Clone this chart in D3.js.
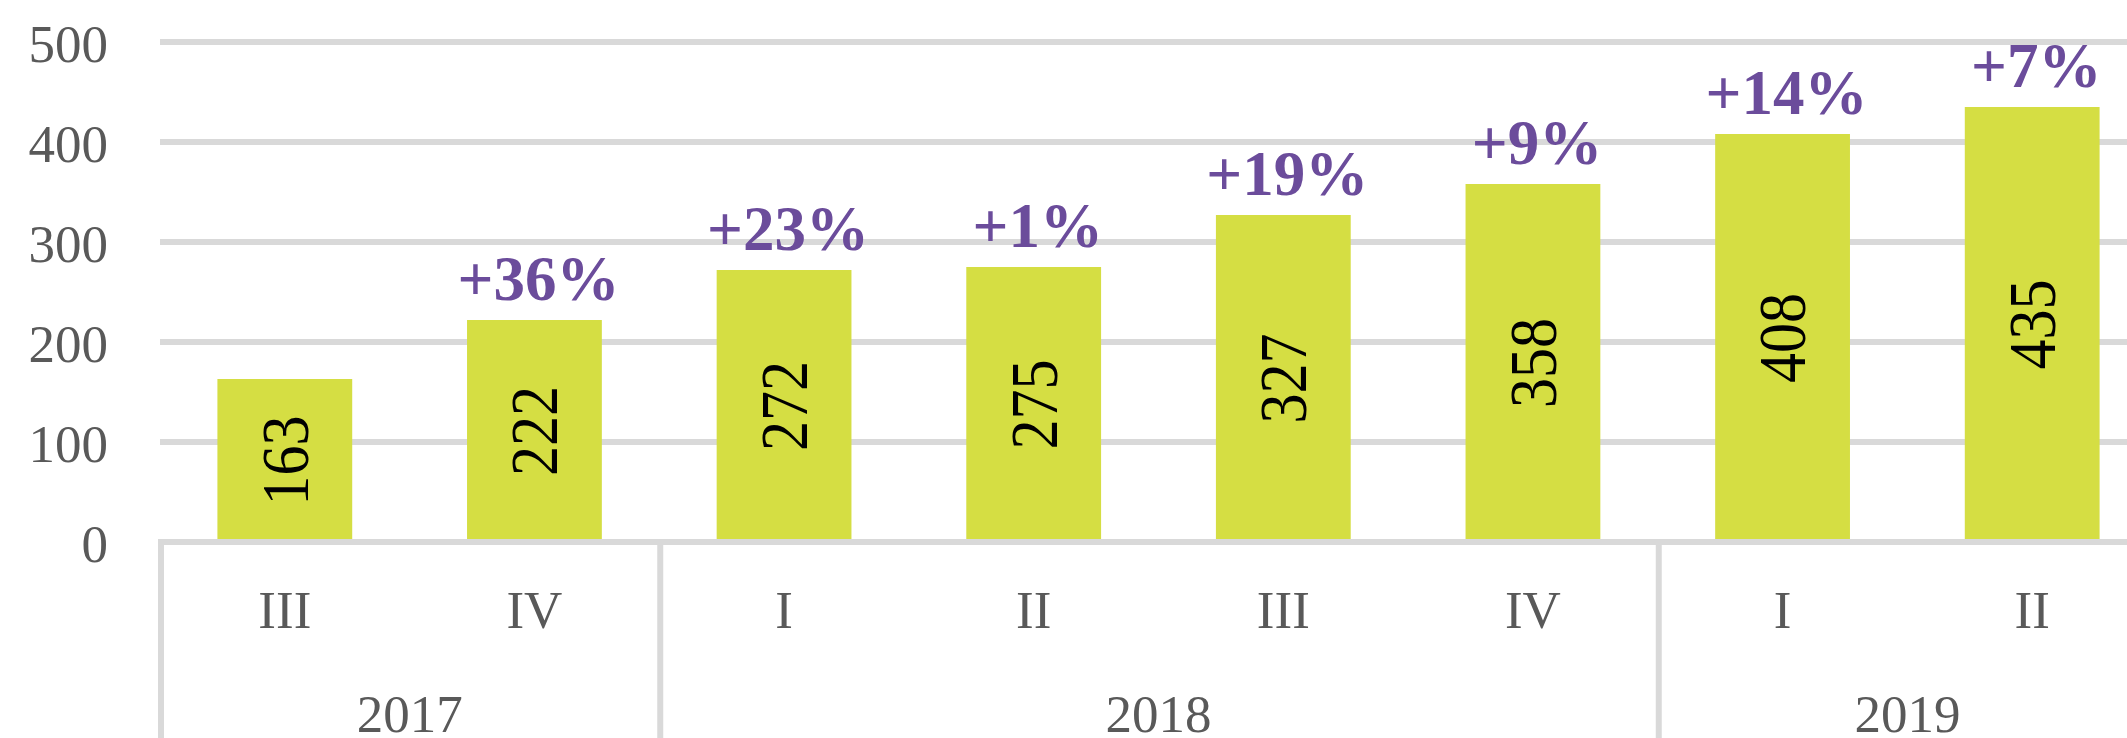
<!DOCTYPE html>
<html>
<head>
<meta charset="utf-8">
<script src="https://cdn.jsdelivr.net/npm/d3@7"></script>
<style>
  body { margin: 0; background: #fff; }
  svg { display: block; }
  text { font-family: "Liberation Serif", "Times New Roman", serif; }
</style>
</head>
<body>
<svg id="chart" width="2127" height="738"></svg>
<script>
// data
const quarters = ["III", "IV", "I", "II", "III", "IV", "I", "II"];
const years = ["2017", "2017", "2018", "2018", "2018", "2018", "2019", "2019"];
const values = [163, 222, 272, 275, 327, 358, 408, 435];
const growth = [null, "+36%", "+23%", "+1%", "+19%", "+9%", "+14%", "+7%"];
const yTicks = [0, 100, 200, 300, 400, 500];

const svg = d3.select("#chart");

const barColor = "#d5de43",
	gridColor = "#d9d9d9",
	axisText = "#595959",
	purple = "#6b4c9b";

// the plot runs off the right side of the picture, like the original
const x0 = 160, x1 = 2157;
const ids = d3.range(values.length);

const x = d3.scaleBand()
	.domain(ids)
	.range([x0, x1])
	.paddingInner(0.46)
	.paddingOuter(0.23);

const y = d3.scaleLinear()
	.domain([0, 500])
	.range([542, 42]);

// gridlines
svg.append("g")
	.selectAll("line")
	.data(yTicks.filter(d => d > 0))
	.enter().append("line")
	.attr("x1", x0)
	.attr("x2", x1)
	.attr("y1", d => y(d))
	.attr("y2", d => y(d))
	.attr("stroke", gridColor)
	.attr("stroke-width", 6);

// y labels
svg.append("g")
	.selectAll("text")
	.data(yTicks)
	.enter().append("text")
	.attr("x", 108)
	.attr("y", d => y(d))
	.attr("dy", "0.37em")
	.attr("text-anchor", "end")
	.attr("font-size", 53)
	.attr("fill", axisText)
	.text(d => d);

// bars
svg.append("g")
	.selectAll("rect")
	.data(ids)
	.enter().append("rect")
	.attr("x", i => x(i))
	.attr("width", x.bandwidth())
	.attr("y", i => y(values[i]))
	.attr("height", i => y(0) - y(values[i]))
	.attr("fill", barColor);

// value labels, turned on their side inside the bars
svg.append("g")
	.selectAll("text")
	.data(ids)
	.enter().append("text")
	.attr("transform", i => {
		const cx = x(i) + x.bandwidth() / 2;
		const cy = (y(values[i]) + y(0)) / 2;
		return `translate(${cx},${cy}) rotate(-90) scale(1,1.12)`;
	})
	.attr("text-anchor", "middle")
	.attr("dy", "0.34em")
	.attr("font-size", 60)
	.attr("fill", "#000")
	.text(i => values[i]);

// growth labels above bars
svg.append("g")
	.selectAll("text")
	.data(ids.filter(i => growth[i]))
	.enter().append("text")
	.attr("x", i => x(i) + x.bandwidth() / 2 + 4)
	.attr("y", i => y(values[i]) - 20)
	.attr("text-anchor", "middle")
	.attr("font-size", 63)
	.attr("font-weight", "bold")
	.attr("fill", purple)
	.text(i => growth[i]);

// category axis: baseline, group boxes, labels
const axisG = svg.append("g");
axisG.append("line")
	.attr("x1", x0).attr("x2", x1)
	.attr("y1", y(0)).attr("y2", y(0))
	.attr("stroke", gridColor)
	.attr("stroke-width", 6);

// year groups from the years array
const groups = [];
years.forEach((yr, i) => {
	const last = groups[groups.length - 1];
	if (last && last.year === yr) last.end = i;
	else groups.push({ year: yr, start: i, end: i });
});
const step = x.step();
const bandLeft = i => x0 + i * step;

axisG.selectAll(".sep")
	.data([0].concat(groups.map(g => g.end + 1)))
	.enter().append("line")
	.attr("class", "sep")
	.attr("x1", i => bandLeft(i) + 1)
	.attr("x2", i => bandLeft(i) + 1)
	.attr("y1", y(0) - 3)
	.attr("y2", 738)
	.attr("stroke", gridColor)
	.attr("stroke-width", 6);

axisG.selectAll(".q")
	.data(ids)
	.enter().append("text")
	.attr("class", "q")
	.attr("x", i => x(i) + x.bandwidth() / 2)
	.attr("y", 628)
	.attr("text-anchor", "middle")
	.attr("font-size", 53)
	.attr("fill", axisText)
	.text(i => quarters[i]);

axisG.selectAll(".yr")
	.data(groups)
	.enter().append("text")
	.attr("class", "yr")
	.attr("x", g => (bandLeft(g.start) + bandLeft(g.end + 1)) / 2)
	.attr("y", 732)
	.attr("text-anchor", "middle")
	.attr("font-size", 53)
	.attr("fill", axisText)
	.text(g => g.year);
</script>
</body>
</html>
